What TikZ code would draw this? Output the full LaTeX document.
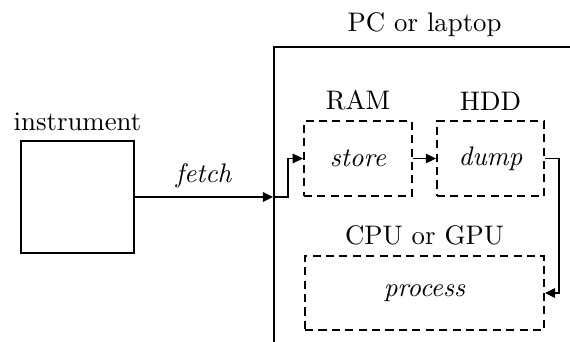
\documentclass[tikz,border=0pt]{standalone}
\usetikzlibrary{arrows.meta}
\tikzset{
  box/.style={draw, thick, inner sep=0pt},
  dbox/.style={draw, thick, dash pattern=on 3pt off 2pt, inner sep=0pt},
  arr/.style={thin, -{Triangle[length=3.8pt,width=3.6pt]}},
}
\begin{document}
\begin{tikzpicture}[x=0.373pt,y=-0.373pt]
\useasboundingbox (0,0) rectangle (570,342);
\clip (0,0) rectangle (570,342);
\node[box, minimum width=42.1pt, minimum height=41.8pt, label={above:instrument}] (inst) at (77.5,197) {};
\node[box, anchor=north west, minimum width=112.3pt, minimum height=130pt, label={above:PC or laptop}] (pc) at (273,46) {};
\coordinate (pcin) at (273,197);
\node[dbox, minimum width=40.3pt, minimum height=28pt, label={above:RAM}] (store) at (358,158.5) {\textit{store}};
\node[dbox, minimum width=39.9pt, minimum height=28pt, label={above:HDD}] (dump) at (490.5,158.5) {\textit{dump}};
\node[dbox, minimum width=89.1pt, minimum height=27.6pt, label={above:CPU or GPU}] (process) at (424.5,293) {\textit{process}};
\draw[arr] (inst.east) -- node[above] {\textit{fetch}} (pcin);
\draw[arr] (pcin) -- ([xshift=5.6pt]pcin) |- (store.west);
\draw[arr] (store.east) -- (dump.west);
\draw[arr] (dump.east) -- ([xshift=5.2pt]dump.east) |- (process.east);
\end{tikzpicture}
\end{document}
